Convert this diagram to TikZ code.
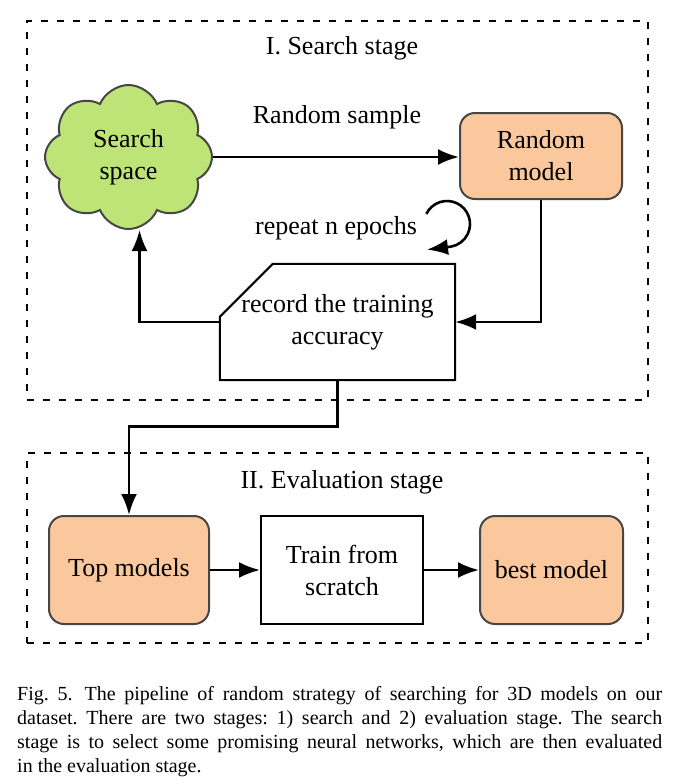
\documentclass[tikz,border=0pt]{standalone}
\usepackage{fontspec}
\IfFontExistsTF{LiberationSerif-Regular.ttf}
  {\newfontfamily\timesf{LiberationSerif-Regular.ttf}}
  {\newfontfamily\timesf{Liberation Serif}}
\usetikzlibrary{shapes.symbols,arrows.meta,calc}
\definecolor{cgreen}{RGB}{190,228,120}
\definecolor{corange}{RGB}{250,200,156}
\definecolor{cborder}{RGB}{70,70,70}
\begin{document}
\frenchspacing
\begin{tikzpicture}[x=1pt,y=-1pt,
  font=\timesf\fontsize{26}{32}\selectfont,
  stagebox/.style={draw, dash pattern=on 7pt off 9pt, line width=2.2pt, inner sep=0pt},
  orangebox/.style={draw=cborder, fill=corange, rounded corners=15pt, line width=2pt, align=center, inner sep=0pt},
  plainbox/.style={draw, line width=2pt, align=center, inner sep=0pt},
  conn/.style={line width=2.6pt, -{Latex[length=21pt,width=16pt]}},
  lbl/.style={inner sep=0pt, align=center}]
\useasboundingbox (0,0) rectangle (684,784);
\fill[white] (0,0) rectangle (684,784);

% stages
\node[stagebox, minimum width=621pt, minimum height=379pt] (s1) at (337.5,210.5) {};
\node[stagebox, minimum width=621pt, minimum height=190pt] (s2) at (337.5,548) {};
\node[lbl] (t1) at (342,48) {I. Search stage};
\node[lbl] (t2) at (342,482) {II. Evaluation stage};

% search stage
\node[cloud, cloud puffs=8, cloud puff arc=135, cloud ignores aspect, draw=cborder, fill=cgreen, line width=2pt,
      minimum width=167pt, minimum height=144pt, inner sep=0pt, align=center] (cloud) at (128.5,157) {Search\\space};
\node[orangebox, minimum width=162pt, minimum height=86pt] (rm) at (541,156) {Random\\model};
\node[lbl] (rs) at (337,117) {Random sample};
\node[lbl] (rep) at (336,228) {repeat n epochs};
\node[inner sep=0pt, minimum width=235pt, minimum height=116pt, align=center] (rec) at (337.5,322) {record the training\\accuracy};
\draw[line width=2pt] ($(rec.north west)+(53,0)$) -- (rec.north east) -- (rec.south east)
  -- (rec.south west) -- ($(rec.north west)+(0,53)$) -- cycle;

\coordinate (loopc) at (447,224);
\draw[conn] ($(loopc)+(206:23)$) arc[start angle=206, end angle=440, radius=23] -- ++(-24,3);

\draw[conn] (cloud.east) -- (cloud.east -| rm.west);
\draw[conn] (rm.south) |- (rec.east);
\draw[conn] (rec.west) -| ($(cloud.south)+(11,0)$);

% evaluation stage
\node[orangebox, minimum width=160pt, minimum height=108pt] (top) at (129,570) {Top models};
\node[plainbox, minimum width=162pt, minimum height=108pt] (train) at (342,570) {Train from\\scratch};
\node[orangebox, minimum width=143pt, minimum height=108pt] (best) at (551.5,570) {best model};

\draw[conn] (rec.south) -- ++(0,46) -| (top.north);
\draw[conn] (top.east) -- (train.west);
\draw[conn] (train.east) -- (best.west);

% caption
\node[anchor=north west, text width=645pt, inner sep=0pt, align=justify,
      font=\timesf\fontsize{20}{24}\selectfont] (cap) at (17,686)
  {Fig.~5.\hspace{0.6em}The pipeline of random strategy of searching for 3D models on our\linebreak
   dataset. There are two stages: 1) search and 2) evaluation stage. The search\linebreak
   stage is to select some promising neural networks, which are then evaluated\linebreak
   in the evaluation stage.};
\end{tikzpicture}
\end{document}
